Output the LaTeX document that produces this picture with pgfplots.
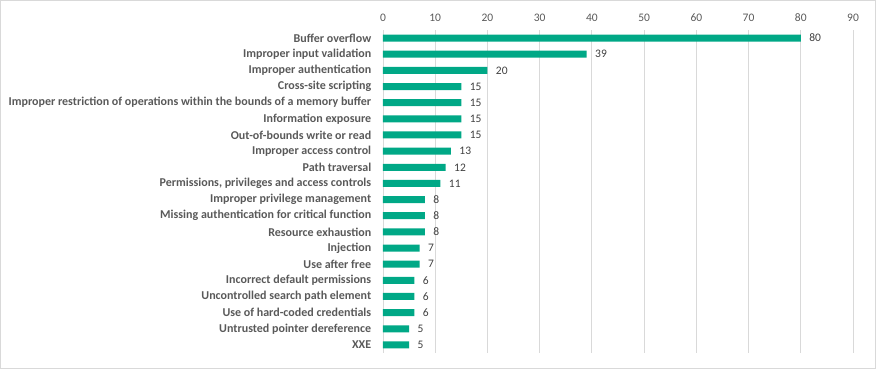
\documentclass[border=0pt]{standalone}
\usepackage{pgfplots}
\pgfplotsset{compat=1.18}
\usepackage{pgfplotstable}
\usepackage{fontspec}
\setmainfont{Carlito}
\definecolor{barcol}{HTML}{00A886}
\definecolor{labcol}{HTML}{595959}
\definecolor{valcol}{HTML}{404040}
\definecolor{gridcol}{HTML}{D9D9D9}
\pgfplotstableread{
idx val
0 80
1 39
2 20
3 15
4 15
5 15
6 15
7 13
8 12
9 11
10 8
11 8
12 8
13 7
14 7
15 6
16 6
17 6
18 5
19 5
}\datatab
\begin{document}
\begin{tikzpicture}
\useasboundingbox (0pt,0pt) rectangle (876pt,369pt);
\draw[gridcol,line width=1pt] (0.5pt,0.5pt) rectangle (875.5pt,368.5pt);
\begin{axis}[
  at={(383pt,16pt)}, anchor=south west,
  scale only axis, width=470pt, height=323pt,
  xbar, bar width=7pt,
  xmin=0, xmax=90, ymin=-0.5, ymax=19.5,
  y dir=reverse,
  xtick={0,10,...,90},
  xticklabel pos=top,
  xmajorgrids, major grid style={gridcol, line width=0.8pt},
  axis line style={draw=none},
  tick style={draw=none},
  /pgf/number format/assume math mode=true,
  xticklabel style={font=\fontsize{11.5}{13}\selectfont, text=labcol, yshift=4.5pt},
  ytick={0,...,19},
  yticklabels={{Buffer overflow},{Improper input validation},{Improper authentication},{Cross-site scripting},{Improper restriction of operations within the bounds of a memory buffer},{Information exposure},{Out-of-bounds write or read},{Improper access control},{Path traversal},{Permissions, privileges and access controls},{Improper privilege management},{Missing authentication for critical function},{Resource exhaustion},{Injection},{Use after free},{Incorrect default permissions},{Uncontrolled search path element},{Use of hard-coded credentials},{Untrusted pointer dereference},{XXE}},
  yticklabel style={font=\bfseries\fontsize{12}{13}\selectfont, text=labcol, xshift=-4pt},
  ytick style={draw=none},
  nodes near coords,
  nodes near coords style={font=\fontsize{11.5}{13}\selectfont, text=valcol, xshift=5pt},
]
\addplot[fill=barcol, draw=none] table[x=val, y=idx] {\datatab};
\end{axis}
\end{tikzpicture}
\end{document}
